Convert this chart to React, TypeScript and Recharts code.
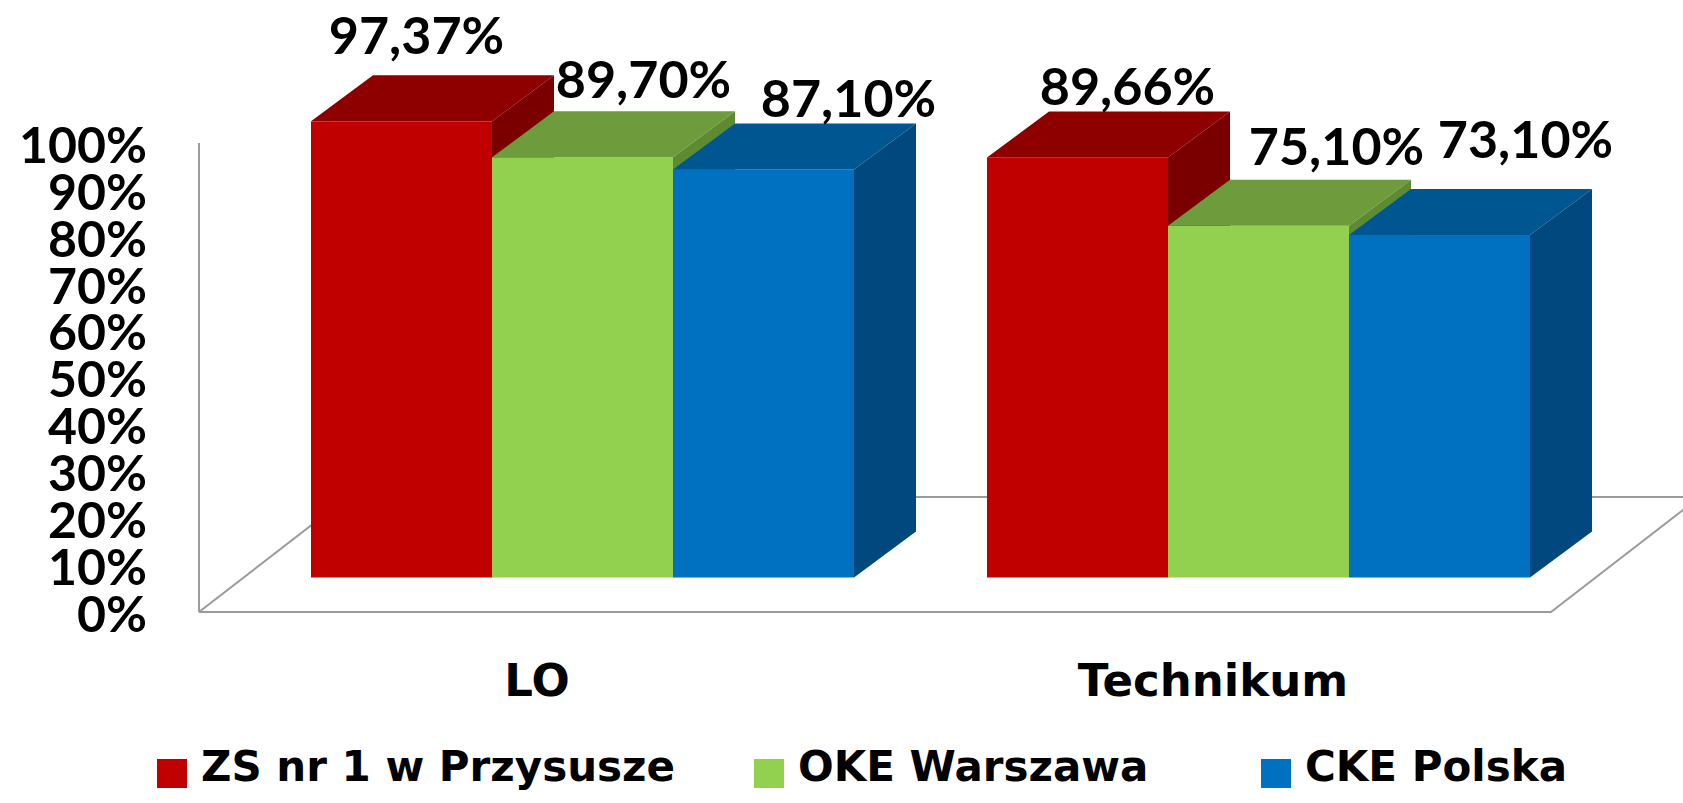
import React from "react";
import { BarChart, Bar, XAxis, YAxis, Legend, LabelList } from "recharts";

// values
const categories = ["LO", "Technikum"];
const seriesNames = ["ZS nr 1 w Przysusze", "OKE Warszawa", "CKE Polska"];
const zsValues = [97.37, 89.66];
const okeValues = [89.7, 75.1];
const ckeValues = [87.1, 73.1];
const yTicks = [0, 10, 20, 30, 40, 50, 60, 70, 80, 90, 100];

// label nudges (dx, dy) – the labels were hand placed in the original
const zsLabelNudge = [[-16, -21], [19, -6]];
const okeLabelNudge = [[30, -13], [47, -15]];
const ckeLabelNudge = [[54, -6], [55, -31]];

const data = categories.map((name, i) => ({
  name,
  zs: zsValues[i],
  oke: okeValues[i],
  cke: ckeValues[i],
}));

const W = 1683;
const H = 803;
const PLOT_LEFT = 244;
const PLOT_RIGHT = 1596;
const PLOT_TOP = 109;
const PLOT_BOTTOM = 577.5;
const X_AXIS_H = 150;
const DX = 62;
const DY = 46;

const numFont = "Lato, 'Noto Sans', sans-serif";
const wordFont = "'DejaVu Sans', sans-serif";

// legend item widths (square + text + spacing), as in the original layout
const legendItemWidths = [597, 507, undefined];

const make3D = (top: string, side: string) => (props: any) => {
  const { x, y, width, height, fill } = props;
  if (width == null || height == null) return null;
  const r = x + width;
  const b = y + height;
  return (
    <g>
      <rect x={x} y={y} width={width} height={height} fill={fill} />
      <polygon
        points={`${x},${y} ${x + DX},${y - DY} ${r + DX},${y - DY} ${r},${y}`}
        fill={top}
      />
      <polygon
        points={`${r},${y} ${r + DX},${y - DY} ${r + DX},${b - DY} ${r},${b}`}
        fill={side}
      />
    </g>
  );
};

const fmt = (v: number) => v.toFixed(2).replace(".", ",") + "%";

const makeLabel = (nudge: number[][]) => (props: any) => {
  const { x, y, width, value, index } = props;
  const n = nudge[index] || [0, 0];
  return (
    <text
      x={x + width / 2 + DX / 2 + n[0]}
      y={y - DY + n[1]}
      textAnchor="middle"
      fontFamily={numFont}
      fontWeight={700}
      fontSize={52}
      fill="#000"
    >
      {fmt(Number(value))}
    </text>
  );
};

const YTick = (props: any) => {
  const { y, payload } = props;
  return (
    <text
      x={147}
      y={y + 54}
      textAnchor="end"
      fontFamily={numFont}
      fontWeight={700}
      fontSize={50}
      fill="#000"
    >
      {payload.value}%
    </text>
  );
};

const XTick = (props: any) => {
  const { x, payload } = props;
  return (
    <text
      x={x - 45}
      y={PLOT_BOTTOM + 118}
      textAnchor="middle"
      fontFamily={wordFont}
      fontWeight={700}
      fontSize={45}
      fill="#000"
    >
      {payload.value}
    </text>
  );
};

const LegendContent = (props: any) => {
  const items = [...(props.payload || [])].sort(
    (a: any, b: any) => seriesNames.indexOf(a.value) - seriesNames.indexOf(b.value)
  );
  return (
    <div style={{ display: "flex", alignItems: "flex-start" }}>
      {items.map((it: any, i: number) => (
        <div
          key={it.value}
          style={{ display: "flex", alignItems: "flex-start", width: legendItemWidths[i] }}
        >
          <div
            style={{
              width: 30,
              height: 29,
              marginTop: 13,
              marginRight: 14,
              background: it.color,
              flexShrink: 0,
            }}
          />
          <span
            style={{
              fontFamily: wordFont,
              fontWeight: 700,
              fontSize: 42,
              lineHeight: "42px",
              color: "#000",
              whiteSpace: "nowrap",
            }}
          >
            {it.value}
          </span>
        </div>
      ))}
    </div>
  );
};

// floor and side wall behind the bars
const slope = 132 / 102;
const floorFront = 612;
const floorBack = 497;
const Floor = () => (
  <svg
    width={W}
    height={H}
    style={{ position: "absolute", left: 0, top: 0 }}
  >
    <g stroke="#9b9b9b" strokeWidth={2} fill="none">
      <line x1={199} y1={143} x2={199} y2={floorFront} />
      <polyline
        points={`${199},${floorFront} ${1551},${floorFront} ${1551 + (floorFront - floorBack + 20) * slope},${floorBack - 20}`}
      />
      <line
        x1={199}
        y1={floorFront}
        x2={199 + (floorFront - floorBack) * slope}
        y2={floorBack}
      />
      <line
        x1={199 + (floorFront - floorBack) * slope}
        y1={floorBack}
        x2={W}
        y2={floorBack}
      />
    </g>
  </svg>
);

export default function App() {
  return (
    <div
      style={{
        position: "absolute",
        left: 0,
        top: 0,
        width: W,
        height: H,
        background: "#fff",
        overflow: "hidden",
      }}
    >
      <Floor />
      <div style={{ position: "absolute", left: 0, top: 0 }}>
        <BarChart
          width={W}
          height={H}
          data={data}
          margin={{
            top: PLOT_TOP,
            right: W - PLOT_RIGHT,
            bottom: H - PLOT_BOTTOM - X_AXIS_H,
            left: 0,
          }}
          barCategoryGap={67}
          barGap={0}
        >
          <XAxis
            dataKey="name"
            height={X_AXIS_H}
            axisLine={false}
            tickLine={false}
            tick={<XTick />}
            interval={0}
          />
          <YAxis
            width={PLOT_LEFT}
            domain={[0, 100]}
            ticks={yTicks}
            interval={0}
            axisLine={false}
            tickLine={false}
            tick={<YTick />}
          />
          <Legend
            verticalAlign="middle"
            align="center"
            layout="horizontal"
            content={<LegendContent />}
            wrapperStyle={{ left: 157, top: 746, width: "auto", height: "auto" }}
          />
          <Bar
            dataKey="zs"
            name={seriesNames[0]}
            fill="#C00000"
            shape={make3D("#8E0000", "#7A0000")}
            isAnimationActive={false}
          >
            <LabelList dataKey="zs" content={makeLabel(zsLabelNudge)} />
          </Bar>
          <Bar
            dataKey="oke"
            name={seriesNames[1]}
            fill="#92D050"
            shape={make3D("#6E9C3D", "#5E8A31")}
            isAnimationActive={false}
          >
            <LabelList dataKey="oke" content={makeLabel(okeLabelNudge)} />
          </Bar>
          <Bar
            dataKey="cke"
            name={seriesNames[2]}
            fill="#0070C0"
            shape={make3D("#005691", "#00487D")}
            isAnimationActive={false}
          >
            <LabelList dataKey="cke" content={makeLabel(ckeLabelNudge)} />
          </Bar>
        </BarChart>
      </div>
    </div>
  );
}
